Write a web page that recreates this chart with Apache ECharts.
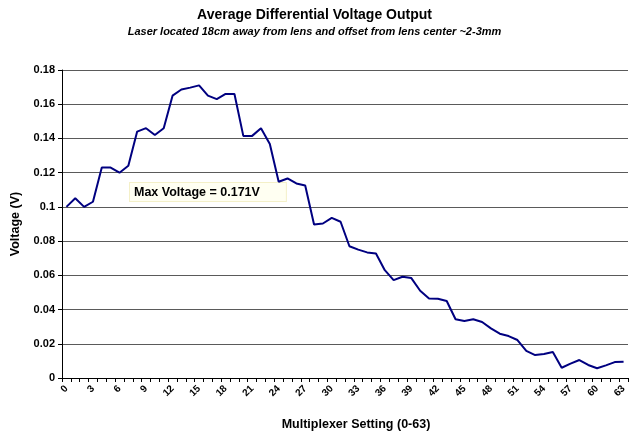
<!DOCTYPE html>
<html>
<head>
<meta charset="utf-8">
<script src="https://cdn.jsdelivr.net/npm/echarts@6/dist/echarts.min.js"></script>
<style>
  html, body { margin: 0; padding: 0; background: #fff; }
  #chart { width: 629px; height: 433px; }
</style>
</head>
<body>
<div id="chart"></div>
<script>
// multiplexer settings 0..63
const settings = [
  0, 1, 2, 3, 4, 5, 6, 7, 8, 9, 10, 11, 12, 13, 14, 15,
  16, 17, 18, 19, 20, 21, 22, 23, 24, 25, 26, 27, 28, 29, 30, 31,
  32, 33, 34, 35, 36, 37, 38, 39, 40, 41, 42, 43, 44, 45, 46, 47,
  48, 49, 50, 51, 52, 53, 54, 55, 56, 57, 58, 59, 60, 61, 62, 63
];

// average differential voltage (V)
const voltage = [
  0.100, 0.105, 0.100, 0.103, 0.123, 0.123, 0.120, 0.124,
  0.144, 0.146, 0.142, 0.146, 0.165, 0.1686, 0.1697, 0.171,
  0.165, 0.163, 0.166, 0.166, 0.1415, 0.1415, 0.146, 0.1367,
  0.1147, 0.1166, 0.1137, 0.1125, 0.0897, 0.0903, 0.0936, 0.0913,
  0.077, 0.075, 0.0734, 0.0728, 0.063, 0.0572, 0.0592, 0.0584,
  0.051, 0.0465, 0.0463, 0.045, 0.0343, 0.0333, 0.0343, 0.0327,
  0.029, 0.0259, 0.0245, 0.0222, 0.0158, 0.0134, 0.014, 0.0152,
  0.006, 0.0084, 0.0105, 0.0076, 0.0057, 0.0074, 0.0093, 0.0095
];

const titleText = 'Average Differential Voltage Output';
const subtitleText = 'Laser located 18cm away from lens and offset from lens center ~2-3mm';
const maxNote = 'Max Voltage = 0.171V';

const FONT = '"Liberation Sans", Arial, sans-serif';

const chart = echarts.init(document.getElementById('chart'));

chart.setOption({
  animation: false,
  textStyle: { fontFamily: FONT },
  title: {
    text: titleText,
    subtext: subtitleText,
    left: 'center',
    top: 3,
    itemGap: 4,
    textStyle: { fontFamily: FONT, fontSize: 14, fontWeight: 'bold', color: '#000' },
    subtextStyle: { fontFamily: FONT, fontSize: 11, fontWeight: 'bold', fontStyle: 'italic', color: '#000' }
  },
  // fixed plot box, labels may run past it
  grid: { left: 62, right: 1, top: 70, bottom: 55, containLabel: false, outerBoundsMode: 'none' },
  xAxis: {
    type: 'category',
    data: settings,
    boundaryGap: true,
    name: 'Multiplexer Setting (0-63)',
    nameLocation: 'middle',
    nameGap: 40,
    nameTextStyle: { fontFamily: FONT, fontSize: 12.5, fontWeight: 'bold', color: '#000', padding: [0, 0, 0, 22] },
    axisLine: { lineStyle: { color: '#000', width: 1 } },
    axisTick: { show: true, interval: 0, length: 4, lineStyle: { color: '#000' } },
    axisLabel: {
      interval: 2,
      rotate: 45,
      margin: 9,
      fontFamily: FONT,
      fontSize: 10,
      fontWeight: 'bold',
      color: '#000'
    },
    splitLine: { show: false }
  },
  yAxis: {
    type: 'value',
    min: 0,
    max: 0.18,
    interval: 0.02,
    name: 'Voltage (V)',
    nameLocation: 'middle',
    nameGap: 40,
    nameTextStyle: { fontFamily: FONT, fontSize: 12.5, fontWeight: 'bold', color: '#000' },
    axisLine: { show: true, lineStyle: { color: '#000', width: 1 } },
    axisTick: { show: true, length: 4, lineStyle: { color: '#000' } },
    axisLabel: {
      margin: 7,
      fontFamily: FONT,
      fontSize: 11,
      fontWeight: 'bold',
      color: '#000',
      formatter: (v) => String(Number(v.toFixed(2)))
    },
    splitLine: { show: true, lineStyle: { color: '#5a5a5a', width: 1 } }
  },
  series: [{
    type: 'line',
    data: voltage,
    showSymbol: false,
    symbol: 'none',
    smooth: false,
    lineStyle: { color: '#000080', width: 2 },
    itemStyle: { color: '#000080' }
  }],
  graphic: [{
    type: 'text',
    left: 129,
    top: 182,
    style: {
      text: maxNote,
      fontFamily: FONT,
      fontSize: 12.5,
      fontWeight: 'bold',
      fill: '#000',
      backgroundColor: '#fffff2',
      borderColor: '#f4f0c8',
      borderWidth: 1,
      padding: [3, 26, 2, 4]
    }
  }]
});
</script>
</body>
</html>
